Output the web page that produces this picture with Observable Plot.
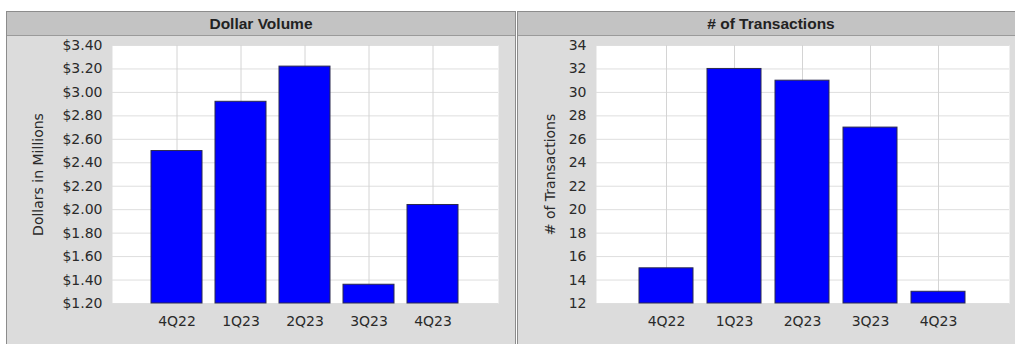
<!DOCTYPE html>
<html>
<head>
<meta charset="utf-8">
<script src="https://cdn.jsdelivr.net/npm/d3@7"></script>
<script src="https://cdn.jsdelivr.net/npm/@observablehq/plot@0.6"></script>
<style>
  html, body { margin: 0; padding: 0; background: #fff; }
  #root { position: relative; width: 1015px; height: 344px; overflow: hidden; background: #fff; }
  .panel { position: absolute; top: 11px; height: 340px; background: #dcdcdc; border: 1px solid #8c8c8c; box-sizing: border-box; }
  .hdr { position: absolute; left: 0; right: 0; top: 0; height: 24px; background: #c3c3c3; border-bottom: 1px solid #9a9a9a; box-sizing: border-box;
         font: bold 15.5px "Liberation Sans", Arial, sans-serif; color: #222; text-align: center; line-height: 23px; }
  .chart { position: absolute; }
  .chart svg { display: block; }
</style>
</head>
<body>
<div id="root">
  <div class="panel" style="left:6px;width:510px;"><div class="hdr">Dollar Volume</div></div>
  <div class="panel" style="left:517px;width:508px;"><div class="hdr"># of Transactions</div></div>
  <div class="chart" id="c1" style="left:7px;top:36px;"></div>
  <div class="chart" id="c2" style="left:518px;top:36px;"></div>
</div>
<script>
const quarters = ["4Q22", "1Q23", "2Q23", "3Q23", "4Q23"];
const dollarVolume = [2.50, 2.92, 3.22, 1.36, 2.04];
const transactions = [15, 32, 31, 27, 13];
const dollarTicks = [1.2, 1.4, 1.6, 1.8, 2.0, 2.2, 2.4, 2.6, 2.8, 3.0, 3.2, 3.4];
const txTicks = [12, 14, 16, 18, 20, 22, 24, 26, 28, 30, 32, 34];

const dvData = quarters.map((q, i) => ({q, v: dollarVolume[i]}));
const txData = quarters.map((q, i) => ({q, v: transactions[i]}));

const FONT = "DejaVu Sans, Verdana, sans-serif";

function panel(data, ticks, fmt, label, opts) {
  const base = ticks[0];
  return Plot.plot({
    width: opts.width, height: 308,
    marginLeft: opts.ml, marginRight: opts.mr, marginTop: 9, marginBottom: 41,
    style: {background: "transparent", fontFamily: FONT, fontSize: "14px", color: "#2a2a2a", overflow: "visible"},
    x: {type: "band", domain: quarters, paddingInner: 0.2, paddingOuter: 0.6},
    y: {domain: [ticks[0], ticks[ticks.length - 1]]},
    marks: [
      Plot.frame({fill: "#fff", stroke: null}),
      Plot.gridY(ticks, {stroke: "#dedede", strokeOpacity: 1}),
      Plot.gridX(quarters, {stroke: "#d4d4d4", strokeOpacity: 1}),
      Plot.barY(data, {x: "q", y1: base, y2: "v", fill: "#0000ff", stroke: "#2b2b4f", strokeWidth: 1}),
      Plot.axisY(ticks, {tickSize: 0, tickPadding: 10, tickFormat: fmt, fontSize: 14,
        label, labelAnchor: "center", labelArrow: "none", labelOffset: opts.lo}),
      Plot.axisX({tickSize: 0, tickPadding: 13, label: null, fontSize: 14})
    ]
  });
}

document.getElementById("c1").append(
  panel(dvData, dollarTicks, d => "$" + d.toFixed(2), "Dollars in Millions", {width: 510, ml: 105, mr: 19, lo: 79})
);
document.getElementById("c2").append(
  panel(txData, txTicks, d => String(d), "# of Transactions", {width: 497, ml: 78, mr: 6, lo: 51})
);
</script>
</body>
</html>
